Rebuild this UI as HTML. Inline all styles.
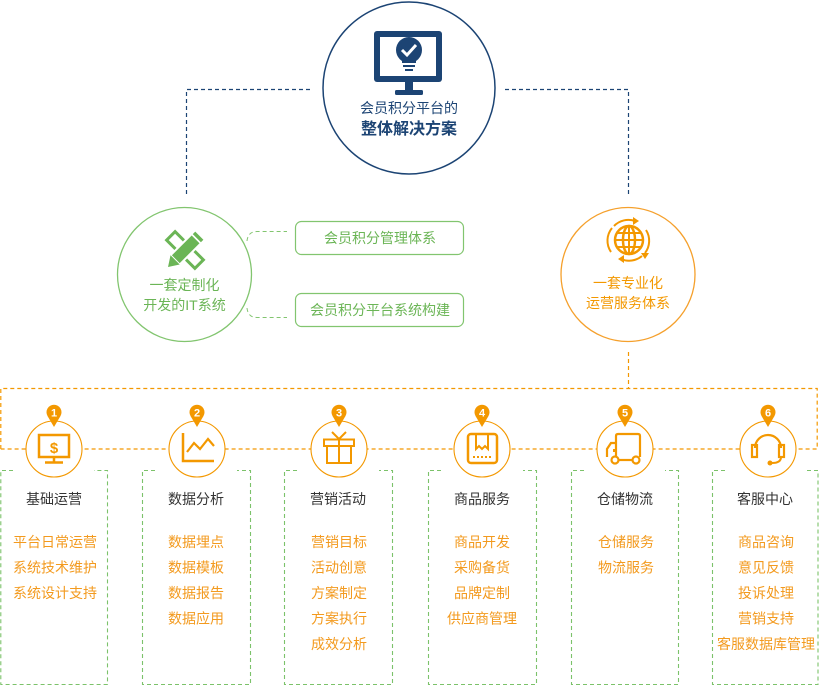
<!DOCTYPE html>
<html><head><meta charset="utf-8"><style>
html,body{margin:0;padding:0;background:#fff;}
svg{display:block;}
text{font-family:"Liberation Sans","Noto Sans CJK SC",sans-serif;}
</style></head><body>
<svg width="819" height="686" viewBox="0 0 819 686" xmlns="http://www.w3.org/2000/svg">
<!-- top blue connectors -->
<g fill="none" stroke="#1c4474" stroke-width="1.2" stroke-dasharray="4,3">
<path d="M310,89.5 L186.5,89.5 L186.5,197"/>
<path d="M505,89.5 L628.5,89.5 L628.5,197"/>
</g>
<!-- top circle -->
<circle cx="409" cy="88" r="86" fill="#fff" stroke="#1c4474" stroke-width="1.5"/>
<rect x="374" y="31" width="68" height="51" rx="3" fill="#1c4474"/>
<rect x="380" y="37" width="56" height="39" fill="#fff"/>
<circle cx="409" cy="50" r="13" fill="#1c4474"/>
<path d="M402,50 L407,55 L416,45" fill="none" stroke="#fff" stroke-width="3"/>
<path d="M402,62 L416,62 M403,66 L415,66 M405,70 L413,70" stroke="#1c4474" stroke-width="2"/>
<rect x="405" y="82" width="8" height="8" fill="#1c4474"/>
<rect x="395" y="90" width="28" height="5" rx="1.5" fill="#1c4474"/>
<text x="409" y="113" font-size="14" fill="#1c4474" text-anchor="middle">会员积分平台的</text>
<text x="409" y="134" font-size="16" font-weight="bold" fill="#1c4474" text-anchor="middle">整体解决方案</text>

<!-- green circle -->
<circle cx="184.5" cy="274.5" r="67" fill="#fff" stroke="#82c56f" stroke-width="1.3"/>
<g transform="translate(185,250) rotate(45)">
<rect x="-20" y="-6" width="40" height="12" fill="none" stroke="#6bb556" stroke-width="3"/>
</g>
<g transform="translate(185,250) rotate(-45)">
<rect x="-14" y="-6.5" width="30" height="13" fill="#6bb556" stroke="#fff" stroke-width="2"/>
<rect x="16" y="-6.5" width="5" height="13" fill="#6bb556" stroke="#fff" stroke-width="1.5"/>
<path d="M-14,-6.5 L-24,0 L-14,6.5 Z" fill="#6bb556"/>
</g>
<text x="184.5" y="290" font-size="14" fill="#6bb556" text-anchor="middle">一套定制化</text>
<text x="184.5" y="310" font-size="14" fill="#6bb556" text-anchor="middle">开发的IT系统</text>
<g fill="none" stroke="#82c56f" stroke-width="1" stroke-dasharray="4,3">
<path d="M247,241 Q248,231.5 257,231.5 L287,231.5"/>
<path d="M247,308 Q248,317.5 257,317.5 L287,317.5"/>
</g>
<rect x="295.5" y="221.5" width="168" height="33" rx="6" fill="#fff" stroke="#82c56f" stroke-width="1.2"/>
<rect x="295.5" y="293.5" width="168" height="33" rx="6" fill="#fff" stroke="#82c56f" stroke-width="1.2"/>
<text x="380" y="243" font-size="14" fill="#6bb556" text-anchor="middle">会员积分管理体系</text>
<text x="380" y="315" font-size="14" fill="#6bb556" text-anchor="middle">会员积分平台系统构建</text>

<!-- orange circle -->
<circle cx="628" cy="274.5" r="67" fill="#fff" stroke="#f5a02c" stroke-width="1.3"/>
<g fill="none" stroke="#f39800" stroke-width="2.5">
<circle cx="629" cy="240" r="14"/>
<ellipse cx="629" cy="240" rx="6" ry="14"/>
<path d="M629,226 L629,254 M615,240 L643,240 M617,233 L641,233 M617,247 L641,247" stroke-width="2"/>
<path d="M614,226 A20,20 0 0 1 635,221" stroke-width="2"/>
<path d="M646,230 A20,20 0 0 1 645,253" stroke-width="2"/>
<path d="M642,256 A20,20 0 0 1 621,259" stroke-width="2"/>
<path d="M611,252 A20,20 0 0 1 612,228" stroke-width="2"/>
</g>
<g fill="#f39800">
<path d="M633,217 L639,221 L633,225 Z"/>
<path d="M641,253 L649,253 L645,259 Z"/>
<path d="M624,255 L618,259 L624,263 Z"/>
</g>
<text x="628" y="288" font-size="14" fill="#f39800" text-anchor="middle">一套专业化</text>
<text x="628" y="308" font-size="14" fill="#f39800" text-anchor="middle">运营服务体系</text>

<!-- orange dashed frame -->
<g fill="none" stroke="#f39800" stroke-width="1.2" stroke-dasharray="4,3">
<path d="M628.5,352 L628.5,388"/>
<path d="M0.8,449 L0.8,388.5 L817.2,388.5 L817.2,449 L0.8,449"/>
</g>

<!-- green dashed boxes -->
<g fill="none" stroke="#7cc26a" stroke-width="1.1" stroke-dasharray="4,3">
<path d="M13,470.5 L0.8,470.5 L0.8,684.5 L107.5,684.5 L107.5,470.5 L94,470.5"/>
<path d="M155,470.5 L142.5,470.5 L142.5,684.5 L250.5,684.5 L250.5,470.5 L237,470.5"/>
<path d="M297,470.5 L284.5,470.5 L284.5,684.5 L392.5,684.5 L392.5,470.5 L379,470.5"/>
<path d="M441,470.5 L428.5,470.5 L428.5,684.5 L536.5,684.5 L536.5,470.5 L523,470.5"/>
<path d="M584,470.5 L571.5,470.5 L571.5,684.5 L678.5,684.5 L678.5,470.5 L665,470.5"/>
<path d="M725,470.5 L712.5,470.5 L712.5,684.5 L818,684.5 L818,470.5 L805,470.5"/>
</g>

<!-- small circles -->
<g fill="#fff" stroke="#f39800" stroke-width="1.1">
<circle cx="54" cy="449" r="28"/>
<circle cx="197" cy="449" r="28"/>
<circle cx="339" cy="449" r="28"/>
<circle cx="482" cy="449" r="28"/>
<circle cx="625" cy="449" r="28"/>
<circle cx="768" cy="449" r="28"/>
</g>
<!-- pins -->
<g fill="#f39800">
<path d="M47.5,416 A7.5,7.5 0 1 1 60.5,416 L54,427 Z"/>
<path d="M190.5,416 A7.5,7.5 0 1 1 203.5,416 L197,427 Z"/>
<path d="M332.5,416 A7.5,7.5 0 1 1 345.5,416 L339,427 Z"/>
<path d="M475.5,416 A7.5,7.5 0 1 1 488.5,416 L482,427 Z"/>
<path d="M618.5,416 A7.5,7.5 0 1 1 631.5,416 L625,427 Z"/>
<path d="M761.5,416 A7.5,7.5 0 1 1 774.5,416 L768,427 Z"/>
</g>
<g fill="#fff" font-size="11" font-weight="bold" text-anchor="middle">
<text x="54" y="416.5">1</text>
<text x="197" y="416.5">2</text>
<text x="339" y="416.5">3</text>
<text x="482" y="416.5">4</text>
<text x="625" y="416.5">5</text>
<text x="768" y="416.5">6</text>
</g>

<!-- icons -->
<g fill="none" stroke="#f39800" stroke-width="2.5">
<rect x="39" y="435" width="30" height="22"/>
<path d="M54,457 L54,462 M45,462.5 L63,462.5"/>
<path d="M183,433 L183,461 L214,461"/>
<path d="M187,452 L194,443 L200,449 L208,439 L214,446" stroke-width="2.2"/>
<rect x="324" y="439.5" width="30" height="6.5" stroke-width="2"/>
<rect x="327" y="446" width="24" height="17" stroke-width="2"/>
<path d="M339,439 L339,463 M339,439 L332,432 M339,439 L346,432" stroke-width="2"/>
<rect x="468" y="434" width="29" height="29" rx="3"/>
<path d="M476,434 L476,449 L479,446 L482,449 L485,446 L488,449 L488,434" stroke-width="2"/>
<path d="M473,457 L475,457 M477,457 L479,457 M481,457 L483,457 M485,457 L487,457 M489,457 L491,457" stroke-width="2"/>
<path d="M616,456 L616,436 Q616,434 618,434 L638,434 Q640,434 640,436 L640,457" stroke-width="2.2"/>
<path d="M616,443 L611,443 L607,449 L607,457" stroke-width="2.2"/>
<path d="M614,449 L614,452" stroke-width="2"/>
<circle cx="615" cy="460" r="3.5" stroke-width="2.2"/>
<circle cx="636" cy="460" r="3.5" stroke-width="2.2"/>
<path d="M618.5,460 L632.5,460" stroke-width="2.2"/>
<path d="M755,448 A13,13 0 0 1 781,448" stroke-width="2.2"/>
<rect x="752" y="445" width="5" height="12" stroke-width="2.2"/>
<rect x="779" y="445" width="5" height="12" stroke-width="2.2"/>
<path d="M781,457 Q781,463 772,463" stroke-width="2"/>
</g>
<circle cx="770" cy="463" r="2.5" fill="#f39800"/>
<text x="54" y="453" font-size="15" font-weight="bold" fill="#f39800" text-anchor="middle">$</text>

<!-- titles -->
<g font-size="14" fill="#333" text-anchor="middle">
<text x="54" y="504">基础运营</text>
<text x="196" y="504">数据分析</text>
<text x="338" y="504">营销活动</text>
<text x="482" y="504">商品服务</text>
<text x="625" y="504">仓储物流</text>
<text x="765" y="504">客服中心</text>
</g>
<!-- items -->
<g font-size="14" fill="#f39a1e" text-anchor="middle">
<text x="55" y="547">平台日常运营</text>
<text x="55" y="572.5">系统技术维护</text>
<text x="55" y="598">系统设计支持</text>

<text x="196" y="547">数据埋点</text>
<text x="196" y="572.5">数据模板</text>
<text x="196" y="598">数据报告</text>
<text x="196" y="623.5">数据应用</text>

<text x="339" y="547">营销目标</text>
<text x="339" y="572.5">活动创意</text>
<text x="339" y="598">方案制定</text>
<text x="339" y="623.5">方案执行</text>
<text x="339" y="649">成效分析</text>

<text x="482" y="547">商品开发</text>
<text x="482" y="572.5">采购备货</text>
<text x="482" y="598">品牌定制</text>
<text x="482" y="623.5">供应商管理</text>

<text x="626" y="547">仓储服务</text>
<text x="626" y="572.5">物流服务</text>

<text x="766" y="547">商品咨询</text>
<text x="766" y="572.5">意见反馈</text>
<text x="766" y="598">投诉处理</text>
<text x="766" y="623.5">营销支持</text>
<text x="766" y="649">客服数据库管理</text>
</g>
</svg>
</body></html>
